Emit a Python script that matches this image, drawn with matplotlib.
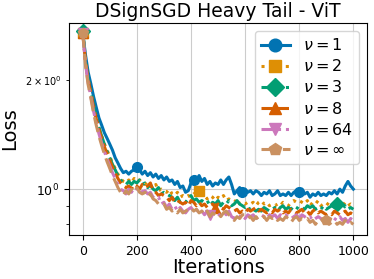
import numpy as np
import matplotlib.pyplot as plt

# iterations (every 10 steps)
iters = np.arange(0, 1001, 10)

# loss curves
loss_nu1 = [2.70, 2.35, 2.10, 1.95, 1.80, 1.68, 1.57, 1.50, 1.43, 1.38,
            1.33, 1.28, 1.22, 1.18, 1.14, 1.11, 1.12, 1.10, 1.12, 1.13,
            1.15, 1.13, 1.10, 1.12, 1.09, 1.11, 1.08, 1.10, 1.07, 1.09,
            1.06, 1.08, 1.05, 1.06, 1.03, 1.05, 1.01, 1.02, 0.98, 0.99,
            1.04, 1.06, 1.05, 1.09, 1.05, 1.07, 1.03, 1.05, 1.02, 1.04,
            1.03, 1.06, 1.03, 1.06, 1.08, 1.03, 0.97, 0.99, 1.01, 0.98,
            1.00, 0.98, 0.99, 0.97, 0.99, 0.98, 0.96, 0.98, 0.97, 0.99,
            0.96, 0.97, 0.99, 0.96, 0.97, 0.96, 0.98, 0.96, 0.98, 0.99,
            0.98, 1.00, 0.97, 0.98, 0.95, 0.97, 0.96, 0.98, 0.96, 0.97,
            0.96, 0.98, 0.97, 0.99, 0.97, 1.00, 0.98, 1.02, 1.05, 1.02,
            1.00]
loss_nu2 = [2.70, 2.25, 2.00, 1.85, 1.70, 1.58, 1.48, 1.40, 1.33, 1.28,
            1.23, 1.18, 1.14, 1.10, 1.07, 1.05, 1.04, 1.06, 1.04, 1.07,
            1.05, 1.06, 1.04, 1.03, 1.05, 1.02, 1.01, 1.03, 0.99, 1.00,
            0.99, 0.98, 1.00, 0.97, 0.96, 0.98, 0.95, 0.96, 0.95, 0.96,
            0.95, 0.97, 0.98, 0.99, 0.97, 0.96, 0.94, 0.96, 0.95, 0.93,
            0.95, 0.94, 0.96, 0.93, 0.94, 0.93, 0.92, 0.94, 0.91, 0.92,
            0.91, 0.92, 0.91, 0.92, 0.90, 0.92, 0.93, 0.91, 0.92, 0.90,
            0.91, 0.90, 0.91, 0.90, 0.92, 0.91, 0.90, 0.92, 0.93, 0.92,
            0.93, 0.92, 0.91, 0.93, 0.90, 0.92, 0.91, 0.93, 0.90, 0.91,
            0.90, 0.92, 0.90, 0.91, 0.89, 0.91, 0.90, 0.92, 0.90, 0.91,
            0.90]
loss_nu3 = [2.72, 2.28, 2.02, 1.86, 1.70, 1.58, 1.48, 1.40, 1.33, 1.27,
            1.22, 1.17, 1.13, 1.09, 1.06, 1.04, 1.03, 1.05, 1.03, 1.05,
            1.04, 1.06, 1.03, 1.04, 1.01, 1.03, 1.00, 0.99, 1.01, 0.97,
            0.98, 0.97, 0.96, 0.95, 0.93, 0.95, 0.92, 0.93, 0.92, 0.94,
            0.96, 0.93, 0.94, 0.92, 0.93, 0.92, 0.93, 0.90, 0.92, 0.91,
            0.93, 0.90, 0.92, 0.91, 0.93, 0.90, 0.91, 0.93, 0.91, 0.90,
            0.89, 0.90, 0.87, 0.88, 0.87, 0.88, 0.87, 0.89, 0.88, 0.87,
            0.88, 0.89, 0.87, 0.89, 0.90, 0.88, 0.89, 0.88, 0.90, 0.89,
            0.88, 0.89, 0.88, 0.90, 0.89, 0.90, 0.88, 0.89, 0.88, 0.90,
            0.88, 0.89, 0.90, 0.89, 0.91, 0.89, 0.88, 0.90, 0.88, 0.89,
            0.88]
loss_nu8 = [2.70, 2.26, 2.00, 1.84, 1.68, 1.56, 1.46, 1.38, 1.31, 1.25,
            1.20, 1.15, 1.11, 1.07, 1.04, 1.02, 1.01, 1.02, 1.00, 1.03,
            1.02, 1.00, 1.03, 1.01, 1.02, 1.04, 0.99, 0.98, 0.96, 0.97,
            0.96, 0.95, 0.93, 0.95, 0.92, 0.93, 0.92, 0.91, 0.92, 0.90,
            0.93, 0.92, 0.90, 0.92, 0.90, 0.91, 0.89, 0.90, 0.91, 0.89,
            0.91, 0.89, 0.88, 0.90, 0.89, 0.88, 0.87, 0.88, 0.86, 0.87,
            0.86, 0.88, 0.87, 0.88, 0.89, 0.87, 0.88, 0.87, 0.86, 0.87,
            0.86, 0.88, 0.87, 0.88, 0.86, 0.87, 0.86, 0.88, 0.87, 0.86,
            0.87, 0.88, 0.86, 0.87, 0.85, 0.87, 0.88, 0.86, 0.87, 0.86,
            0.85, 0.86, 0.85, 0.87, 0.86, 0.85, 0.86, 0.87, 0.85, 0.86,
            0.85]
loss_nu64 = [2.70, 2.22, 1.96, 1.80, 1.64, 1.52, 1.42, 1.34, 1.27, 1.21,
             1.16, 1.11, 1.07, 1.03, 1.00, 0.99, 0.97, 1.00, 0.98, 1.01,
             1.00, 1.01, 0.98, 0.99, 0.97, 0.98, 0.95, 0.94, 0.95, 0.91,
             0.92, 0.89, 0.91, 0.88, 0.90, 0.87, 0.89, 0.87, 0.86, 0.88,
             0.89, 0.87, 0.88, 0.86, 0.87, 0.85, 0.87, 0.85, 0.86, 0.85,
             0.84, 0.86, 0.87, 0.85, 0.87, 0.84, 0.83, 0.85, 0.84, 0.85,
             0.83, 0.85, 0.84, 0.85, 0.83, 0.84, 0.85, 0.84, 0.83, 0.85,
             0.84, 0.85, 0.83, 0.85, 0.84, 0.85, 0.84, 0.83, 0.84, 0.85,
             0.83, 0.85, 0.84, 0.83, 0.84, 0.82, 0.83, 0.84, 0.83, 0.82,
             0.83, 0.82, 0.84, 0.83, 0.82, 0.84, 0.82, 0.83, 0.81, 0.83,
             0.82]
loss_inf = [2.70, 2.20, 1.94, 1.78, 1.62, 1.50, 1.40, 1.32, 1.25, 1.19,
            1.14, 1.09, 1.05, 1.01, 0.98, 0.96, 0.99, 0.97, 1.00, 0.98,
            1.01, 0.98, 0.97, 0.98, 0.95, 0.97, 0.94, 0.93, 0.91, 0.90,
            0.91, 0.88, 0.89, 0.87, 0.88, 0.86, 0.88, 0.86, 0.87, 0.88,
            0.89, 0.87, 0.88, 0.86, 0.87, 0.85, 0.87, 0.84, 0.86, 0.85,
            0.86, 0.84, 0.86, 0.87, 0.85, 0.84, 0.82, 0.84, 0.83, 0.85,
            0.85, 0.83, 0.84, 0.82, 0.84, 0.82, 0.83, 0.84, 0.82, 0.84,
            0.83, 0.84, 0.82, 0.83, 0.82, 0.84, 0.83, 0.81, 0.83, 0.84,
            0.82, 0.83, 0.82, 0.83, 0.81, 0.82, 0.80, 0.82, 0.83, 0.81,
            0.82, 0.80, 0.81, 0.82, 0.80, 0.81, 0.80, 0.82, 0.80, 0.81,
            0.80]

labels = [r"$\nu=1$", r"$\nu=2$", r"$\nu=3$", r"$\nu=8$", r"$\nu=64$", r"$\nu=\infty$"]
series = [loss_nu1, loss_nu2, loss_nu3, loss_nu8, loss_nu64, loss_inf]

colors = ["#0173B2", "#DE8F05", "#029E73", "#D55E00", "#CC78BC", "#CA9161"]
markers = ["o", "s", "D", "^", "v", "p"]
styles = ["-", ":", "-.", "--", "-.", (0, (5, 2))]
mark_idx = [[0, 20, 41, 59, 80], [0, 43], [0, 94], [0, 49], [0, 47], [0, 90]]

fig = plt.figure(figsize=(3.74, 2.79), dpi=100)
ax = fig.add_axes([0.185, 0.158, 0.796, 0.76])

for y, lab, c, m, ls, mi in zip(series, labels, colors, markers, styles, mark_idx):
    ax.plot(iters, y, color=c, marker=m, linestyle=ls, linewidth=2.2,
            markersize=7, markevery=mi, label=lab)

ax.set_yscale("log")
ax.set_xlim(-50, 1050)
ax.set_ylim(0.748, 2.87)
ax.set_xticks([0, 200, 400, 600, 800, 1000])
ax.tick_params(axis="x", labelsize=9)
ax.tick_params(axis="y", which="major", labelsize=9)
ax.tick_params(axis="y", which="minor", labelsize=7)
ax.grid(True, color="#cccccc", linewidth=0.8)

ax.set_title("DSignSGD Heavy Tail - ViT", fontsize=13.5, pad=4)
ax.set_xlabel("Iterations", fontsize=14, labelpad=0)
ax.set_ylabel("Loss", fontsize=14)
ax.legend(loc="upper right", fontsize=11.5, handlelength=1.8, markerscale=1.3,
          borderpad=0.4, labelspacing=0.32, handletextpad=0.8)

fig.savefig("out.png", dpi=100)
